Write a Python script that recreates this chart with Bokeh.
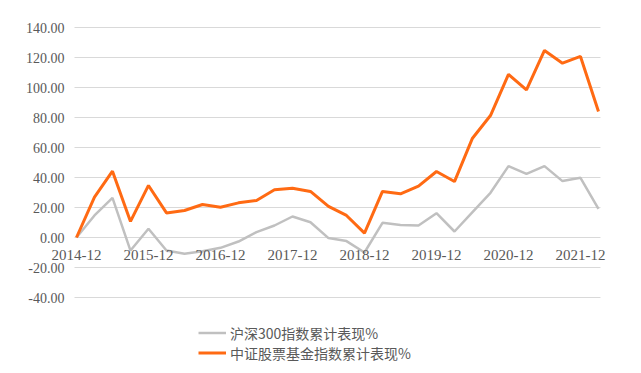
from bokeh.plotting import figure
from bokeh.models import Range1d, FixedTicker, PrintfTickFormatter, Legend, LegendItem
from bokeh.embed import file_html
from bokeh.resources import INLINE

quarters = ["2014-12", "2015-03", "2015-06", "2015-09", "2015-12", "2016-03", "2016-06", "2016-09",
            "2016-12", "2017-03", "2017-06", "2017-09", "2017-12", "2018-03", "2018-06", "2018-09",
            "2018-12", "2019-03", "2019-06", "2019-09", "2019-12", "2020-03", "2020-06", "2020-09",
            "2020-12", "2021-03", "2021-06", "2021-09", "2021-12", "2022-03"]
hs300 = [0, 14.7, 26.4, -8.7, 5.8, -8.7, -10.9, -9.1, -6.9, -2.7, 3.6, 8.0, 14.0, 10.2, -0.4,
         -2.4, -10.0, 9.8, 8.4, 8.0, 16.2, 4.0, 16.9, 29.8, 47.6, 42.4, 47.6, 37.6, 39.8, 19.1]
fund = [0, 26.9, 44.2, 10.7, 34.7, 16.4, 18.0, 22.0, 20.2, 23.1, 24.7, 31.8, 32.9, 30.7, 20.7,
        14.7, 2.9, 30.7, 29.1, 34.2, 44.0, 37.3, 66.2, 81.3, 108.7, 98.4, 124.7, 116.2, 120.7, 84.0]
series_names = ["沪深300指数累计表现%", "中证股票基金指数累计表现%"]
tick_labels = ["2014-12", "2015-12", "2016-12", "2017-12", "2018-12", "2019-12", "2020-12", "2021-12"]
y_ticks = [-40, -20, 0, 20, 40, 60, 80, 100, 120, 140]

xs = list(range(len(quarters)))
tick_idx = [quarters.index(t) for t in tick_labels]
pad = 0.11
x_lo, x_hi = -pad, len(quarters) - 1 + pad

# scale: 18 px per quarter, 1.5 px per percentage point; plot area at (74, 27)
px_x, px_y = 18.0, 1.5
x_start = x_lo - 74 / px_x
x_end = x_start + 641 / px_x
y_end = max(y_ticks) + 27 / px_y
y_start = y_end - 373 / px_y

p = figure(width=641, height=373, output_backend="svg", toolbar_location=None,
           x_range=Range1d(x_start, x_end), y_range=Range1d(y_start, y_end),
           min_border_left=0, min_border_right=0, min_border_top=0, min_border_bottom=0)
p.background_fill_color = "white"
p.border_fill_color = "white"
p.outline_line_color = None
p.xgrid.grid_line_color = None
p.ygrid.grid_line_color = None

# horizontal grid lines limited to the plot area
p.segment(x0=[x_lo] * len(y_ticks), y0=y_ticks, x1=[x_hi] * len(y_ticks), y1=y_ticks,
          line_color="#d9d9d9", line_width=1)

ay = p.yaxis[0]
ay.fixed_location = x_lo
ay.ticker = FixedTicker(ticks=y_ticks)
ay.formatter = PrintfTickFormatter(format="%.2f")
ay.axis_line_color = None
ay.major_tick_line_color = None
ay.minor_tick_line_color = None
ay.major_tick_out = 0
ay.major_tick_in = 0
ay.major_label_standoff = 10
ay.major_label_text_font = "Liberation Serif"
ay.major_label_text_font_size = "14px"
ay.major_label_text_color = "#595959"

ax = p.xaxis[0]
ax.fixed_location = 0
ax.ticker = FixedTicker(ticks=tick_idx)
ax.major_label_overrides = {i: t for i, t in zip(tick_idx, tick_labels)}
ax.axis_line_color = None
ax.major_tick_line_color = None
ax.minor_tick_line_color = None
ax.major_tick_out = 0
ax.major_tick_in = 0
ax.major_label_standoff = 12
ax.major_label_text_font = "Liberation Serif"
ax.major_label_text_font_size = "15px"
ax.major_label_text_color = "#595959"

r1 = p.line(xs, hs300, line_color="#c0c0c0", line_width=2.5)
r2 = p.line(xs, fund, line_color="#ff6a13", line_width=3)

legend = Legend(items=[LegendItem(label=series_names[0], renderers=[r1]),
                       LegendItem(label=series_names[1], renderers=[r2])],
                location=(198, 10.5), orientation="vertical",
                glyph_width=28, glyph_height=19, label_height=19, spacing=0,
                padding=0, margin=0, label_standoff=4,
                label_text_font="Noto Sans CJK SC", label_text_font_size="14px",
                label_text_color="#595959",
                background_fill_alpha=0, border_line_color=None)
p.add_layout(legend, "center")

open("out.html", "w").write(file_html(p, INLINE))
